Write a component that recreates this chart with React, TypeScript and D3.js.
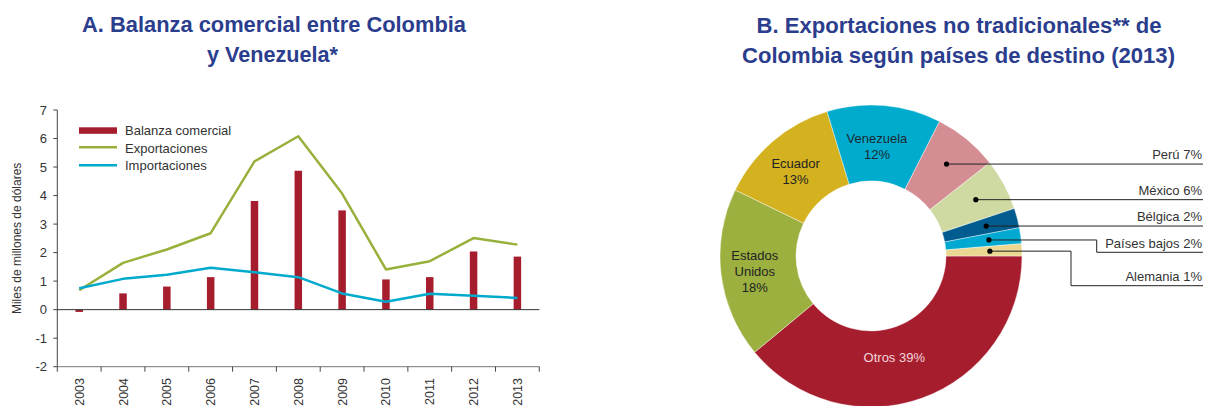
import React from "react";
import * as d3 from "d3";

// ---------- Data: Panel A ----------
const years = ["2003","2004","2005","2006","2007","2008","2009","2010","2011","2012","2013"];
const balanza = [-0.08, 0.57, 0.81, 1.14, 3.81, 4.87, 3.48, 1.06, 1.14, 2.04, 1.86];
const exportaciones = [0.68, 1.64, 2.11, 2.68, 5.2, 6.08, 4.07, 1.41, 1.7, 2.51, 2.28];
const importaciones = [0.75, 1.08, 1.22, 1.47, 1.31, 1.14, 0.57, 0.28, 0.56, 0.49, 0.41];
const yTicks = [-2, -1, 0, 1, 2, 3, 4, 5, 6, 7];
const legendLabels = ["Balanza comercial", "Exportaciones", "Importaciones"];

// ---------- Data: Panel B ----------
const paises = ["Otros", "Estados Unidos", "Ecuador", "Venezuela", "Perú", "México", "Bélgica", "Países bajos", "Alemania"];
const participacion = [39.0, 18.2, 13.1, 12.2, 6.9, 5.5, 2.1, 1.7, 1.3];
const etiquetasPct = ["39%", "18%", "13%", "12%", "7%", "6%", "2%", "2%", "1%"];

const titleA = ["A. Balanza comercial entre Colombia", "y Venezuela*"];
const titleB = ["B. Exportaciones no tradicionales** de", "Colombia según países de destino (2013)"];

// ---------- Styles ----------
const RED = "#A61E2E";
const GREEN = "#98B03C";
const CYAN = "#00AACC";
const NAVY = "#2B3D8D";
const TXT = "#333333";
const FONT = "'Liberation Sans', Arial, sans-serif";
const sliceColors = ["#A61E2E", "#9BB03F", "#D4B11F", "#00ABCD", "#D48D93", "#CFDAA2", "#005C8E", "#00A9D2", "#EAD892"];
const sliceTextColors = ["#F3D6DA", "#222", "#222", "#1a2a33", null, null, null, null, null];

export default function App() {
  const W = 1207, H = 406;

  // Panel A scales
  const x = d3.scaleBand<string>().domain(years).range([57.3, 539.3]).paddingInner(0).paddingOuter(0);
  const y = d3.scaleLinear().domain([-2, 7]).range([366.7, 110]);
  const cx = (yr: string) => (x(yr) as number) + x.bandwidth() / 2;
  const barW = 7.5;

  const expLine = d3.line<number>().x((_, i) => cx(years[i])).y((d) => y(d));
  const impLine = d3.line<number>().x((_, i) => cx(years[i])).y((d) => y(d));

  const tickEdges = years.map((yr) => x(yr) as number).concat([x.range()[1]]);

  // Panel B
  const pcx = 871, pcy = 256, rOut = 151, rIn = 75;
  const pie = d3.pie<number>().sort(null).value((d) => d).startAngle(Math.PI / 2).endAngle(Math.PI / 2 + 2 * Math.PI);
  const arcs = pie(participacion);
  const arcGen = d3.arc<d3.PieArcDatum<number>>().innerRadius(rIn).outerRadius(rOut);
  const labelArc = d3.arc<d3.PieArcDatum<number>>().innerRadius(113).outerRadius(113);
  const dotArc = d3.arc<d3.PieArcDatum<number>>().innerRadius(119).outerRadius(119);

  // Internal labels (lines of text)
  const inner: { [k: number]: string[] } = {
    0: [paises[0] + " " + etiquetasPct[0]],
    1: ["Estados", "Unidos", etiquetasPct[1]],
    2: [paises[2], etiquetasPct[2]],
    3: [paises[3], etiquetasPct[3]],
  };
  const innerOffset: { [k: number]: [number, number] } = { 0: [-15, -5], 1: [-4, 2], 2: [-2, 1], 3: [-4, 3] };

  // external leader layout: label line y, optional elbow x
  const labelRight = 1203;
  const extLayout: { [k: number]: { ly?: number; ex?: number } } = {
    4: {},
    5: {},
    6: {},
    7: { ly: 252.3, ex: 1096.7 },
    8: { ly: 285.7, ex: 1071 },
  };

  return (
    <svg width={W} height={H} style={{ position: "absolute", left: 0, top: 0, background: "#fff" }} fontFamily={FONT}>
      {/* Titles */}
      <g fontWeight="bold" fill={NAVY} fontSize={21.5} textAnchor="middle">
        <text x={274} y={32} textLength={384} lengthAdjust="spacingAndGlyphs">{titleA[0]}</text>
        <text x={272.5} y={62} textLength={131} lengthAdjust="spacingAndGlyphs">{titleA[1]}</text>
        <text x={959} y={33} textLength={405} lengthAdjust="spacingAndGlyphs">{titleB[0]}</text>
        <text x={958.5} y={63} textLength={433} lengthAdjust="spacingAndGlyphs">{titleB[1]}</text>
      </g>

      {/* Panel A */}
      <g>
        {/* Y axis */}
        <line x1={57.3} x2={57.3} y1={y(7)} y2={y(-2)} stroke="#444" strokeWidth={1} />
        {yTicks.map((t) => (
          <g key={t}>
            <line x1={53.3} x2={57.3} y1={y(t)} y2={y(t)} stroke="#444" />
            <text x={47} y={y(t)} dy="0.35em" textAnchor="end" fontSize={13} fill={TXT}>{t}</text>
          </g>
        ))}
        <text transform={`translate(21,${(y(7) + y(-2)) / 2 - 0}) rotate(-90)`} textAnchor="middle" fontSize={12} fill={TXT}>
          Miles de millones de dólares
        </text>
        {/* bottom axis */}
        <line x1={57.3} x2={539.3} y1={y(-2)} y2={y(-2)} stroke="#777" strokeWidth={1} />
        {tickEdges.map((tx, i) => (
          <line key={i} x1={tx} x2={tx} y1={y(-2)} y2={y(-2) + 5} stroke="#444" />
        ))}
        {years.map((yr) => (
          <text key={yr} transform={`translate(${cx(yr) + 4.5},378) rotate(-90)`} textAnchor="end" fontSize={12.5} fill={TXT}>
            {yr}
          </text>
        ))}
        {/* bars */}
        {balanza.map((v, i) => (
          <rect key={i} x={cx(years[i]) - barW / 2} width={barW}
            y={Math.min(y(v), y(0))} height={Math.abs(y(v) - y(0))} fill={RED} />
        ))}
        {/* zero line */}
        <line x1={57.3} x2={539.3} y1={y(0)} y2={y(0)} stroke="#333" strokeWidth={1} />
        {/* lines */}
        <path d={expLine(exportaciones) || ""} fill="none" stroke={GREEN} strokeWidth={2.5} strokeLinejoin="round" />
        <path d={impLine(importaciones) || ""} fill="none" stroke={CYAN} strokeWidth={2.5} strokeLinejoin="round" />
        {/* legend */}
        <rect x={79} y={127.3} width={38} height={6.5} fill={RED} />
        <line x1={79} x2={117} y1={147.3} y2={147.3} stroke={GREEN} strokeWidth={2.5} />
        <line x1={79} x2={117} y1={165.3} y2={165.3} stroke={CYAN} strokeWidth={2.5} />
        {legendLabels.map((l, i) => (
          <text key={l} x={125} y={130.5 + i * 17.5} dy="0.35em" fontSize={13} fill={TXT}>{l}</text>
        ))}
      </g>

      {/* Panel B */}
      <g transform={`translate(${pcx},${pcy})`}>
        {arcs.map((a, i) => (
          <path key={i} d={arcGen(a) || ""} fill={sliceColors[i]} stroke="#fff" strokeWidth={0.4} />
        ))}
        {Object.keys(inner).map((k) => {
          const i = +k;
          const [lx, ly] = labelArc.centroid(arcs[i]);
          const lines = inner[i];
          const off = innerOffset[i];
          const lh = 16;
          const y0 = ly + off[1] - ((lines.length - 1) * lh) / 2;
          return (
            <text key={k} textAnchor="middle" fontSize={13} fill={sliceTextColors[i] as string}>
              {lines.map((s, j) => (
                <tspan key={j} x={lx + off[0]} y={y0 + j * lh} dy="0.35em">{s}</tspan>
              ))}
            </text>
          );
        })}
        {Object.keys(extLayout).map((k) => {
          const i = +k;
          const [dx, dy] = dotArc.centroid(arcs[i]);
          const lay = extLayout[i];
          const ly = lay.ly !== undefined ? lay.ly - pcy : dy;
          const right = labelRight - pcx;
          let d = `M${dx},${dy}`;
          if (lay.ex !== undefined) {
            const ex = lay.ex - pcx;
            d += `H${ex}V${ly}H${right}`;
          } else {
            d += `H${right}`;
          }
          return (
            <g key={k}>
              <path d={d} fill="none" stroke="#222" strokeWidth={1} />
              <circle cx={dx} cy={dy} r={2.6} fill="#000" />
              <text x={right - 1} y={ly - 4.7} textAnchor="end" fontSize={13} fill={TXT}>
                {paises[i] + " " + etiquetasPct[i]}
              </text>
            </g>
          );
        })}
      </g>
    </svg>
  );
}
